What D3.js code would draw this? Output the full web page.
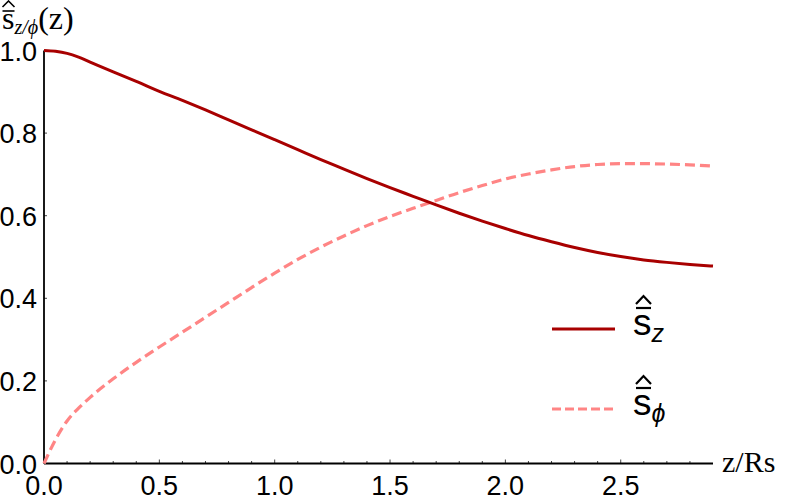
<!DOCTYPE html>
<html>
<head>
<meta charset="utf-8">
<script src="https://cdn.jsdelivr.net/npm/d3@7"></script>
<style>
  body { margin: 0; background: #fff; }
  svg { display: block; }
  .tick-label { font-family: "Liberation Sans", Arial, sans-serif; font-size: 27px; fill: #000; }
  .serif { font-family: "Liberation Serif", "Times New Roman", serif; fill: #000; }
</style>
</head>
<body>
<svg width="789" height="502"></svg>
<script>
var zVals = [0, 0.05, 0.1, 0.15, 0.2, 0.3, 0.4, 0.5, 0.6, 0.7, 0.8, 0.9, 1.0, 1.1, 1.2, 1.3, 1.4, 1.5,
             1.6, 1.7, 1.8, 1.9, 2.0, 2.1, 2.2, 2.3, 2.4, 2.5, 2.6, 2.7, 2.8, 2.9];
var sZ = [1.0, 0.998, 0.993, 0.984, 0.972, 0.948, 0.925, 0.901, 0.879, 0.856, 0.832, 0.808, 0.784, 0.76,
          0.736, 0.713, 0.69, 0.668, 0.647, 0.626, 0.606, 0.587, 0.569, 0.552, 0.537, 0.523, 0.511,
          0.501, 0.493, 0.487, 0.482, 0.478];
var sPhi = [0, 0.058, 0.103, 0.134, 0.16, 0.205, 0.245, 0.282, 0.318, 0.354, 0.39, 0.426, 0.461, 0.494,
            0.524, 0.551, 0.576, 0.598, 0.618, 0.637, 0.656, 0.673, 0.689, 0.701, 0.711, 0.719, 0.724,
            0.726, 0.726, 0.725, 0.723, 0.72];
var xTicks = [0, 0.5, 1.0, 1.5, 2.0, 2.5];
var xMinor = d3.range(0, 29).map(function(i) { return i / 10; });
var yTicks = [0, 0.2, 0.4, 0.6, 0.8, 1.0];
var legendSubs = ["z", "\u03d5"];

var svg = d3.select("svg");

var x = d3.scaleLinear().domain([0, 2.9]).range([44, 713]);
var y = d3.scaleLinear().domain([0, 1]).range([463.5, 50.5]);

var g = svg.append("g");

// hat over a bar, drawn above a letter
function hatBar(cx, top, w, hatH, gap, sw) {
  g.append("path")
      .attr("d", "M" + (cx - w / 2) + "," + (top + hatH) + "L" + cx + "," + top + "L" + (cx + w / 2) + "," + (top + hatH))
      .attr("fill", "none")
      .attr("stroke", "#000")
      .attr("stroke-width", sw);
  g.append("line")
      .attr("x1", cx - w / 2).attr("x2", cx + w / 2)
      .attr("y1", top + hatH + gap).attr("y2", top + hatH + gap)
      .attr("stroke", "#000")
      .attr("stroke-width", sw);
}

// x ticks (inward)
g.selectAll(".xminor")
  .data(xMinor)
  .enter().append("line")
    .attr("x1", function(d) { return x(d); })
    .attr("x2", function(d) { return x(d); })
    .attr("y1", y(0))
    .attr("y2", function(d, i) { return y(0) - (i % 5 === 0 ? 4 : 2.5); })
    .attr("stroke", "#444")
    .attr("stroke-width", 1);

g.selectAll(".yminor")
  .data(yTicks)
  .enter().append("line")
    .attr("x1", x(0))
    .attr("x2", x(0) + 3)
    .attr("y1", function(d) { return y(d); })
    .attr("y2", function(d) { return y(d); })
    .attr("stroke", "#444")
    .attr("stroke-width", 1);

// axes
g.append("line")
    .attr("x1", x(0)).attr("x2", x(2.9))
    .attr("y1", y(0)).attr("y2", y(0))
    .attr("stroke", "#000").attr("stroke-width", 1.8);
g.append("line")
    .attr("x1", x(0)).attr("x2", x(0))
    .attr("y1", y(0)).attr("y2", y(1))
    .attr("stroke", "#000").attr("stroke-width", 1.8);

g.selectAll(".xlab")
  .data(xTicks)
  .enter().append("text")
    .attr("class", "tick-label")
    .attr("x", function(d) { return x(d); })
    .attr("y", 495)
    .attr("text-anchor", "middle")
    .text(function(d) { return d.toFixed(1); });

g.selectAll(".ylab")
  .data(yTicks)
  .enter().append("text")
    .attr("class", "tick-label")
    .attr("x", 37)
    .attr("y", function(d) { return y(d) + 10; })
    .attr("text-anchor", "end")
    .text(function(d) { return d.toFixed(1); });

// curves
var rows = zVals.map(function(z, i) { return {z: z, sz: sZ[i], sp: sPhi[i]}; });

g.append("path")
    .datum(rows)
    .attr("fill", "none")
    .attr("stroke", "#ff8585")
    .attr("stroke-width", 3.2)
    .attr("stroke-dasharray", "10,5")
    .attr("d", d3.line().curve(d3.curveMonotoneX)
        .x(function(d) { return x(d.z); })
        .y(function(d) { return y(d.sp); }));

g.append("path")
    .datum(rows)
    .attr("fill", "none")
    .attr("stroke", "#a80000")
    .attr("stroke-width", 3)
    .attr("d", d3.line().curve(d3.curveMonotoneX)
        .x(function(d) { return x(d.z); })
        .y(function(d) { return y(d.sz); }));

// axis labels
g.append("text")
    .attr("class", "serif")
    .attr("x", 722)
    .attr("y", 472)
    .style("font-size", "30px")
    .text("z/Rs");

var yl = g.append("text")
    .attr("class", "serif")
    .attr("x", 2)
    .attr("y", 29)
    .style("font-size", "32px");
yl.append("tspan").text("s");
yl.append("tspan").attr("dy", 5).style("font-size", "20px").style("font-style", "italic").text("z/\u03d5");
yl.append("tspan").attr("dy", -5).text("(z)");
hatBar(8.5, 1, 12, 6, 4, 1.6);

// legend
var legendY = [329, 409];
legendSubs.forEach(function(sub, i) {
  g.append("line")
      .attr("x1", 552).attr("x2", 615)
      .attr("y1", legendY[i]).attr("y2", legendY[i])
      .attr("stroke", i === 0 ? "#a80000" : "#ff8585")
      .attr("stroke-width", i === 0 ? 3 : 3.2)
      .attr("stroke-dasharray", i === 0 ? null : "9,4");
  var t = g.append("text")
      .attr("x", 633)
      .attr("y", legendY[i] + 6)
      .style("font-family", "'Liberation Sans', Arial, sans-serif")
      .style("font-size", "37px");
  t.append("tspan").text("s");
  t.append("tspan").attr("dy", 7).style("font-size", "25px").style("font-style", "italic").text(sub);
  hatBar(643.5, legendY[i] - 33, 15, 8, 4, 2.2);
});
</script>
</body>
</html>
